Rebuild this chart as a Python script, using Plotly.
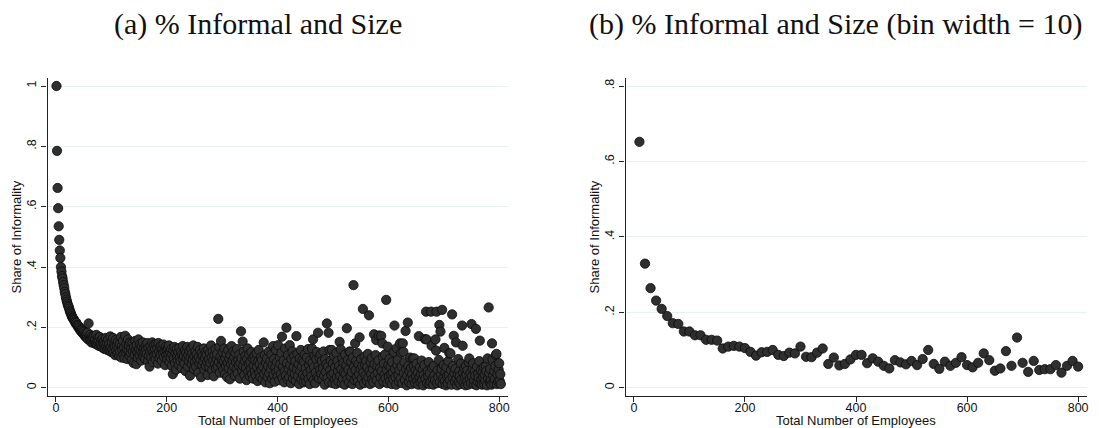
import plotly.graph_objects as go

# ---- Panel (a): share of informal workers by firm size (1 employee steps) ----
size_a = list(range(1, 804))
share_a = [
    1.0, .785, .662, .595, .535, .490, .455, .430, .400, .385,
    .370, .362, .350, .340, .330, .318, .310, .300, .292, .285,
    .278, .272, .268, .262, .255, .250, .246, .240, .236, .232,
    .230, .226, .224, .219, .218, .212, .215, .208, .207, .201,
    .204, .196, .199, .190, .194, .186, .192, .181, .188, .178,
    .185, .172, .180, .168, .176, .165, .182, .160, .213, .170,
    .158, .175, .162, .150, .170, .155, .166, .148, .172, .152,
    .160, .145, .175, .150, .142, .165, .155, .138, .168, .147,
    .140, .158, .135, .162, .150, .130, .155, .143, .128, .165,
    .138, .150, .125, .160, .132, .145, .122, .170, .135, .118,
    .150, .128, .165, .115, .142, .135, .108, .158, .125, .140,
    .112, .152, .130, .105, .145, .120, .168, .100, .138, .126,
    .155, .110, .133, .098, .172, .118, .145, .125, .095, .160,
    .122, .140, .105, .150, .115, .130, .092, .148, .120, .082,
    .135, .110, .155, .125, .078, .142, .118, .100, .160, .128,
    .108, .145, .122, .090, .138, .115, .150, .102, .130, .118,
    .095, .140, .125, .112, .148, .088, .132, .106, .070, .120,
    .138, .100, .125, .150, .085, .118, .142, .108, .128, .095,
    .145, .112, .130, .080, .148, .120, .098, .135, .110, .140,
    .090, .128, .115, .143, .102, .122, .075, .135, .108, .125,
    .095, .130, .112, .140, .085, .118, .100, .128, .072, .110,
    .045, .125, .098, .135, .082, .115, .060, .128, .105, .090,
    .118, .075, .132, .100, .088, .120, .065, .110, .138, .092,
    .105, .080, .125, .055, .115, .098, .135, .070, .108, .088,
    .122, .040, .100, .130, .078, .112, .092, .140, .062, .105,
    .085, .120, .070, .110, .095, .135, .050, .102, .080, .125,
    .092, .035, .115, .075, .105, .088, .130, .060, .098, .118,
    .072, .110, .085, .042, .125, .095, .068, .115, .082, .140,
    .100, .058, .120, .090, .038, .108, .078, .128, .065, .095,
    .112, .070, .228, .085, .135, .050, .102, .155, .075, .092,
    .118, .060, .088, .130, .045, .098, .072, .112, .035, .082,
    .125, .065, .095, .028, .108, .078, .138, .055, .090, .120,
    .070, .100, .040, .115, .085, .062, .128, .048, .092, .075,
    .110, .030, .082, .187, .098, .058, .153, .072, .120, .042,
    .088, .105, .065, .025, .095, .130, .052, .078, .110, .038,
    .085, .062, .118, .045, .098, .030, .072, .105, .055, .090,
    .040, .115, .068, .022, .088, .125, .050, .078, .035, .100,
    .060, .092, .028, .070, .150, .045, .108, .018, .082, .055,
    .098, .035, .072, .120, .048, .015, .088, .062, .110, .030,
    .075, .138, .042, .095, .020, .068, .125, .052, .085, .038,
    .141, .060, .025, .100, .078, .045, .115, .169, .032, .070,
    .090, .018, .055, .130, .040, .199, .082, .028, .108, .062,
    .035, .141, .075, .015, .095, .050, .120, .030, .068, .105,
    .045, .088, .022, .171, .060, .112, .038, .078, .012, .098,
    .055, .125, .028, .070, .092, .042, .018, .085, .110, .035,
    .065, .020, .100, .048, .128, .030, .075, .012, .090, .058,
    .038, .130, .082, .160, .025, .068, .105, .015, .050, .095,
    .118, .035, .182, .072, .030, .100, .060, .111, .045, .088,
    .028, .065, .120, .040, .010, .095, .052, .078, .213, .032,
    .070, .182, .018, .125, .058, .090, .042, .125, .015, .080,
    .048, .105, .025, .068, .012, .115, .035, .088, .055, .020,
    .072, .152, .040, .127, .062, .015, .098, .030, .082, .050,
    .010, .110, .045, .075, .197, .028, .092, .060, .018, .120,
    .119, .038, .085, .052, .012, .100, .340, .070, .025, .147,
    .058, .090, .035, .115, .020, .078, .045, .167, .010, .062,
    .095, .030, .072, .261, .050, .015, .103, .075, .040, .088,
    .022, .068, .112, .035, .240, .055, .012, .085, .045, .098,
    .028, .062, .018, .177, .078, .040, .108, .158, .025, .070,
    .050, .090, .173, .012, .065, .035, .172, .055, .147, .103,
    .020, .080, .042, .110, .030, .291, .060, .015, .136, .075,
    .038, .095, .022, .068, .045, .012, .085, .050, .028, .118,
    .206, .062, .035, .010, .131, .075, .092, .042, .020, .058,
    .147, .030, .116, .070, .015, .147, .119, .048, .085, .025,
    .188, .062, .008, .040, .216, .072, .018, .055, .100, .032,
    .065, .012, .045, .097, .028, .072, .097, .015, .058, .038,
    .080, .022, .050, .010, .171, .035, .068, .018, .045, .090,
    .025, .060, .008, .042, .075, .161, .030, .252, .160, .015,
    .055, .038, .085, .012, .048, .020, .252, .139, .065, .030,
    .010, .072, .040, .025, .160, .123, .252, .015, .058, .035,
    .092, .208, .018, .186, .045, .062, .258, .012, .030, .075,
    .132, .022, .050, .008, .068, .038, .015, .088, .042, .114,
    .025, .114, .058, .010, .243, .035, .072, .172, .048, .020,
    .062, .150, .030, .008, .045, .095, .018, .055, .038, .012,
    .080, .028, .206, .139, .050, .015, .065, .035, .008, .072,
    .042, .020, .058, .010, .085, .097, .030, .048, .015, .211,
    .038, .062, .081, .012, .025, .055, .040, .195, .008, .070,
    .020, .045, .032, .088, .156, .015, .058, .028, .010, .050,
    .035, .068, .012, .042, .022, .070, .055, .008, .097, .030,
    .266, .048, .018, .062, .025, .010, .147, .094, .040, .015,
    .055, .028, .072, .108, .112, .012, .045, .020, .060, .081,
    .022, .045, .012,
]

# ---- Panel (b): same relation, firm size grouped in bins of 10 ----
size_b = list(range(10, 810, 10))
share_b = [
    .652, .329, .264, .231, .209, .190, .171, .169, .149, .149,
    .139, .139, .127, .127, .125, .104, .109, .111, .109, .105,
    .095, .085, .094, .095, .100, .087, .084, .093, .091, .109,
    .082, .081, .093, .104, .063, .080, .059, .063, .075, .087,
    .087, .065, .078, .069, .058, .051, .073, .067, .062, .071,
    .060, .076, .100, .063, .050, .069, .058, .066, .081, .060,
    .054, .066, .091, .073, .045, .051, .097, .058, .133, .066,
    .042, .071, .047, .049, .049, .060, .040, .058, .071, .056,
]

x_ticks = [0, 200, 400, 600, 800]
y_ticks_a = [0, .2, .4, .6, .8, 1]
y_labels_a = ["0", ".2", ".4", ".6", ".8", "1"]
y_ticks_b = [0, .2, .4, .6, .8]
y_labels_b = ["0", ".2", ".4", ".6", ".8"]

titles = ["(a) % Informal and Size", "(b) % Informal and Size (bin width = 10)"]
x_title = "Total Number of Employees"
y_title = "Share of Informality"

W, H = 1099, 428
marker = dict(size=9.3, color="#2f2f2f", line=dict(color="#0a0a0a", width=0.8))

fig = go.Figure()
fig.add_trace(go.Scatter(x=size_a, y=share_a, mode="markers", marker=marker,
                         xaxis="x", yaxis="y", showlegend=False))
fig.add_trace(go.Scatter(x=size_b, y=share_b, mode="markers", marker=marker,
                         xaxis="x2", yaxis="y2", showlegend=False))

tick_font = dict(family="Liberation Sans, Arial, sans-serif", size=12.5, color="#111")
axis_common = dict(showline=True, linecolor="#222", linewidth=1.3,
                   ticks="outside", ticklen=5, tickwidth=1.2, tickcolor="#222",
                   tickfont=tick_font, zeroline=False, fixedrange=True)

dom_y = [(H - 395.7) / H, (H - 78) / H]
dom_a = [47.7 / W, 509 / W]
dom_b = [626.7 / W, 1089 / W]

fig.update_layout(
    width=W, height=H,
    margin=dict(l=0, r=0, t=0, b=0),
    paper_bgcolor="white", plot_bgcolor="white",
    xaxis=dict(domain=dom_a, range=[-15, 816], tickvals=x_ticks,
               showgrid=False, anchor="y", ticklabelstandoff=-5, **axis_common),
    yaxis=dict(domain=dom_y, range=[-0.0265, 1.0265], tickvals=y_ticks_a,
               ticktext=y_labels_a, tickangle=-90, showgrid=True,
               gridcolor="#e8f0f2", gridwidth=1, anchor="x", **axis_common),
    xaxis2=dict(domain=dom_b, range=[-15, 816], tickvals=x_ticks,
                showgrid=False, anchor="y2", ticklabelstandoff=-5, **axis_common),
    yaxis2=dict(domain=dom_y, range=[-0.0212, 0.8212], tickvals=y_ticks_b,
                ticktext=y_labels_b, tickangle=-90, showgrid=True,
                gridcolor="#e8f0f2", gridwidth=1, anchor="x2", **axis_common),
)

title_font = dict(family="Liberation Serif, Times New Roman, serif", size=30, color="#111")
label_font = dict(family="Liberation Sans, Arial, sans-serif", size=13, color="#111")

for title, cx in zip(titles, [258.5, 837.5]):
    fig.add_annotation(text=title, x=cx / W, y=1 - 23.8 / H, xref="paper", yref="paper",
                       xanchor="center", yanchor="middle", showarrow=False, font=title_font)

for dom in (dom_a, dom_b):
    mid = (dom[0] + dom[1]) / 2
    fig.add_annotation(text=x_title, x=mid, y=1 - 420.5 / H, xref="paper", yref="paper",
                       xanchor="center", yanchor="middle", showarrow=False, font=label_font)
    fig.add_annotation(text=y_title, x=dom[0] - 31 / W, y=(dom_y[0] + dom_y[1]) / 2,
                       xref="paper", yref="paper", xanchor="center", yanchor="middle",
                       textangle=-90, showarrow=False, font=label_font)

fig.write_html("out.html")
